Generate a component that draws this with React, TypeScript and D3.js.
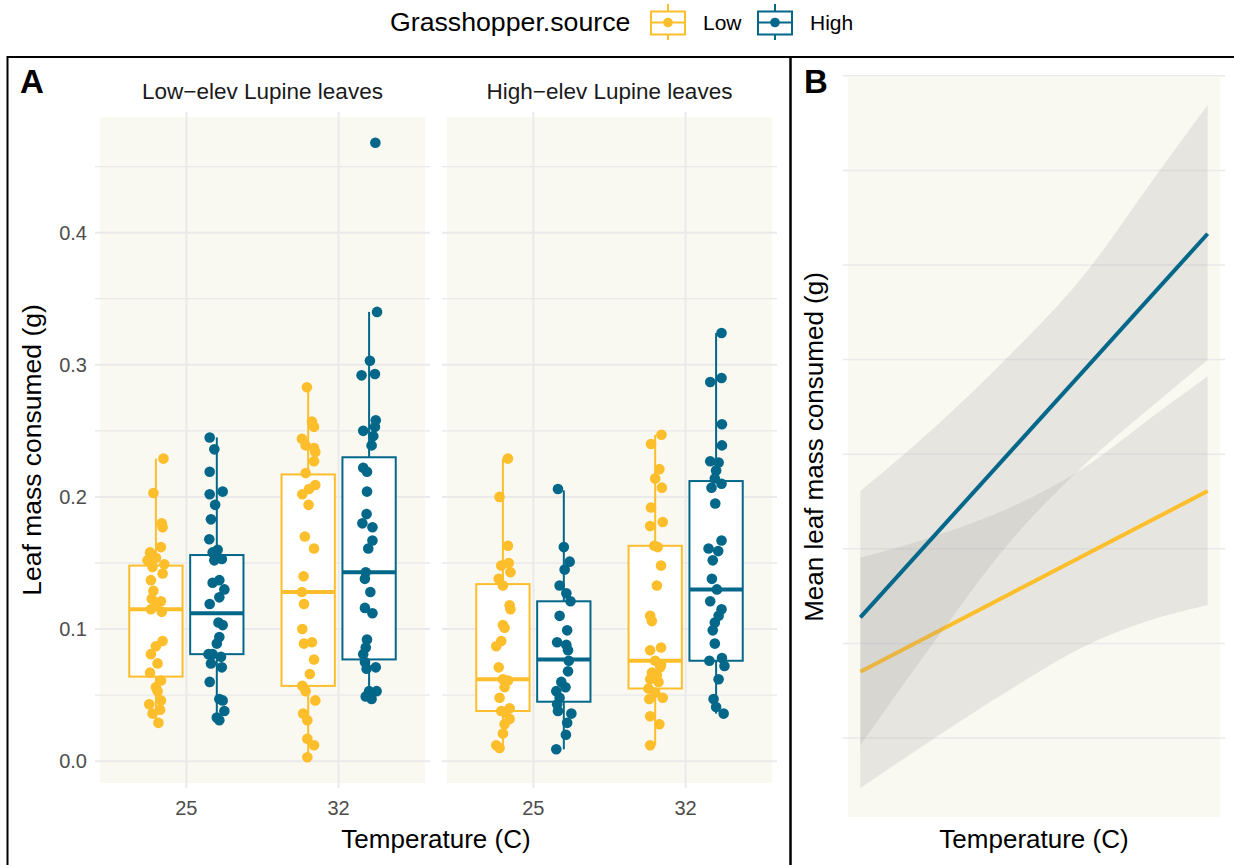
import React, { useEffect, useRef } from 'react';
import * as d3 from 'd3';

const sources = ['Low', 'High'];
const temps = ['25', '32'];
const facets = ['Low−elev Lupine leaves', 'High−elev Lupine leaves'];
const colors: Record<string, string> = { Low: '#FDBE2B', High: '#03678A' };

// leaf mass consumed (g), each point [value, jitter in -1..1]
const lowElev25Low = [[0.229, 0.9], [0.203, -0.3], [0.180, 0.7], [0.177, 0.8], [0.162, 0.6], [0.158, -0.7], [0.152, -1.0], [0.154, 0.0], [0.149, 1.0], [0.147, -0.4], [0.142, 0.8], [0.137, -0.6], [0.129, -0.3], [0.123, -0.5], [0.121, 0.6], [0.118, 0.0], [0.115, -0.6], [0.113, 0.7], [0.091, 0.8], [0.087, 0.0], [0.081, -0.6], [0.074, 0.2], [0.067, -0.7], [0.061, 0.6], [0.056, 0.0], [0.053, 0.2], [0.046, 0.6], [0.043, -0.8], [0.039, 0.5], [0.036, -0.4], [0.029, 0.3]];
const lowElev25High = [[0.245, -0.85], [0.236, -0.3], [0.219, -0.85], [0.204, 0.7], [0.202, -0.85], [0.194, -0.2], [0.183, -0.7], [0.168, -0.9], [0.160, 0.1], [0.158, -0.5], [0.153, 0.6], [0.152, -0.3], [0.137, 0.3], [0.135, -0.5], [0.130, 0.9], [0.124, 0.3], [0.119, -0.85], [0.105, 0.2], [0.103, 0.7], [0.094, 0.3], [0.089, 0.0], [0.081, -0.5], [0.081, -1.0], [0.079, 0.5], [0.074, -0.7], [0.071, 0.6], [0.060, -0.85], [0.047, 0.3], [0.046, 0.7], [0.038, 0.9], [0.033, 0.0], [0.031, 0.3]];
const lowElev32Low = [[0.283, -0.15], [0.257, 0.45], [0.253, 0.7], [0.244, -0.75], [0.239, -0.3], [0.237, 0.7], [0.234, 0.85], [0.227, 0.7], [0.218, -0.3], [0.209, 0.85], [0.206, 0.1], [0.202, -0.7], [0.194, 0.05], [0.170, -0.4], [0.161, 0.7], [0.140, -0.55], [0.128, -0.75], [0.119, -0.5], [0.100, -0.7], [0.090, 0.45], [0.089, -0.5], [0.077, 0.7], [0.066, 0.2], [0.057, -0.7], [0.053, -0.3], [0.046, 0.85], [0.036, -0.6], [0.031, -0.1], [0.017, -0.1], [0.012, 0.7], [0.003, -0.1]];
const lowElev32High = [[0.468, 0.75], [0.340, 0.95], [0.303, 0.1], [0.293, 0.7], [0.292, -0.9], [0.258, 0.8], [0.253, 0.7], [0.250, -0.7], [0.246, 0.5], [0.239, 0.3], [0.222, -0.7], [0.219, -0.25], [0.204, -0.25], [0.187, -0.3], [0.180, -0.8], [0.177, 0.4], [0.167, 0.4], [0.161, -0.1], [0.143, -0.4], [0.138, -0.5], [0.128, 0.15], [0.116, -0.5], [0.112, 0.4], [0.092, -0.25], [0.086, -0.4], [0.081, -0.7], [0.075, -0.5], [0.071, 0.8], [0.070, -0.3], [0.053, 0.0], [0.053, 0.9], [0.049, -0.4], [0.047, 0.3]];
const highElev25Low = [[0.229, 0.6], [0.200, -0.4], [0.163, 0.6], [0.150, 0.7], [0.148, -0.2], [0.143, 0.9], [0.138, -0.5], [0.133, 0.0], [0.118, 0.8], [0.115, 0.9], [0.103, 0.0], [0.101, 0.2], [0.091, -0.2], [0.087, -0.8], [0.071, -0.5], [0.062, 0.0], [0.061, 0.6], [0.056, 0.2], [0.048, -0.4], [0.040, 0.8], [0.038, -0.2], [0.037, 0.3], [0.032, 0.8], [0.028, 0.2], [0.021, 0.0], [0.012, -0.8], [0.010, -0.4]];
const highElev25High = [[0.206, -0.7], [0.162, 0.0], [0.151, 0.7], [0.145, 0.1], [0.133, -0.5], [0.127, 0.3], [0.121, 0.8], [0.110, -0.5], [0.099, 0.4], [0.090, -0.8], [0.088, 0.3], [0.084, 0.5], [0.076, 0.6], [0.068, 0.5], [0.060, -0.3], [0.056, 0.2], [0.053, -0.9], [0.048, -0.5], [0.043, -0.8], [0.038, -0.7], [0.036, 0.9], [0.029, 0.4], [0.020, 0.25], [0.009, -0.9]];
const highElev32Low = [[0.247, 0.75], [0.240, -0.5], [0.221, 0.5], [0.214, 0.0], [0.207, 0.8], [0.192, -0.5], [0.181, 0.9], [0.178, -0.6], [0.163, -0.1], [0.162, 0.3], [0.148, 0.7], [0.133, 0.2], [0.110, -0.6], [0.106, -0.4], [0.086, 0.7], [0.084, -0.6], [0.076, 0.0], [0.073, 0.7], [0.071, 0.6], [0.067, -0.4], [0.065, 0.2], [0.062, -0.6], [0.060, 0.4], [0.055, -0.8], [0.052, 0.0], [0.048, 0.9], [0.047, -0.7], [0.034, -0.6], [0.028, 0.5], [0.012, -0.6]];
const highElev32High = [[0.324, 0.65], [0.290, 0.65], [0.287, -0.7], [0.255, 0.7], [0.239, 0.7], [0.227, -0.7], [0.226, 0.3], [0.220, 0.0], [0.214, -0.15], [0.210, 0.65], [0.207, -0.55], [0.195, -0.1], [0.167, 0.65], [0.161, -0.9], [0.159, 0.25], [0.152, -0.4], [0.138, -0.5], [0.130, 0.1], [0.121, -0.7], [0.115, 0.65], [0.110, 0.3], [0.105, -0.15], [0.099, -0.4], [0.089, -0.15], [0.078, 0.7], [0.076, -0.8], [0.072, 1.0], [0.062, 0.3], [0.047, -0.3], [0.041, 0.0], [0.036, 0.9]];

// box stats: [lower whisker, q1, median, q3, upper whisker]
const boxLowElev25 = { Low: [0.029, 0.064, 0.115, 0.148, 0.229], High: [0.031, 0.081, 0.112, 0.156, 0.245] };
const boxLowElev32 = { Low: [0.003, 0.057, 0.128, 0.217, 0.283], High: [0.047, 0.077, 0.143, 0.230, 0.340] };
const boxHighElev25 = { Low: [0.010, 0.038, 0.062, 0.134, 0.229], High: [0.009, 0.045, 0.077, 0.121, 0.205] };
const boxHighElev32 = { Low: [0.012, 0.055, 0.076, 0.163, 0.247], High: [0.036, 0.076, 0.130, 0.212, 0.324] };

// panel B: fitted means and confidence bands
const tempB = [25, 26.5, 28, 29.5, 31, 32];
const bandLowUpper = [0.0781, 0.0827, 0.0886, 0.0971, 0.1088, 0.1165];
const bandLowLower = [0.0294, 0.0400, 0.0501, 0.0593, 0.0654, 0.0681];
const bandHighUpper = [0.0922, 0.1057, 0.1208, 0.1378, 0.1595, 0.1738];
const bandHighLower = [0.0385, 0.0605, 0.0813, 0.0976, 0.1112, 0.1199];
const fitTemps = [25, 32];
const fitLow = [0.0540, 0.0922];
const fitHigh = [0.0655, 0.1466];

const groups = [
  { facet: 0, temp: '25', source: 'Low', pts: lowElev25Low, box: boxLowElev25.Low },
  { facet: 0, temp: '25', source: 'High', pts: lowElev25High, box: boxLowElev25.High },
  { facet: 0, temp: '32', source: 'Low', pts: lowElev32Low, box: boxLowElev32.Low },
  { facet: 0, temp: '32', source: 'High', pts: lowElev32High, box: boxLowElev32.High },
  { facet: 1, temp: '25', source: 'Low', pts: highElev25Low, box: boxHighElev25.Low },
  { facet: 1, temp: '25', source: 'High', pts: highElev25High, box: boxHighElev25.High },
  { facet: 1, temp: '32', source: 'Low', pts: highElev32Low, box: boxHighElev32.Low },
  { facet: 1, temp: '32', source: 'High', pts: highElev32High, box: boxHighElev32.High },
];

const FONT = '"Liberation Sans", Arial, Helvetica, sans-serif';
const PANEL_BG = '#F9F8F1';
const GRID = '#EAEAEA';

export default function App() {
  const ref = useRef<SVGSVGElement>(null);

  useEffect(() => {
    document.body.style.margin = '0';
    const svg = d3.select(ref.current);
    svg.selectAll('*').remove();
    svg.style('font-family', FONT);

    // ---- panel A ----
    const facetRanges = [[95, 430], [442, 777]];
    const yA = d3.scaleLinear().domain([-0.0203, 0.4913]).range([788, 112]);
    const gA = svg.append('g');

    facetRanges.forEach((r, fi) => {
      const x = d3.scalePoint().domain(temps).range(r as [number, number]).padding(0.6);
      gA.append('rect')
        .attr('x', r[0]).attr('y', 112)
        .attr('width', r[1] - r[0]).attr('height', 788 - 112)
        .attr('fill', PANEL_BG).attr('stroke', 'white').attr('stroke-width', 10);
      d3.range(0, 0.46, 0.05).forEach((v, i) => {
        gA.append('line')
          .attr('x1', r[0]).attr('x2', r[1])
          .attr('y1', yA(v)).attr('y2', yA(v))
          .attr('stroke', GRID).attr('stroke-width', i % 2 === 0 ? 2 : 1.3);
      });
      temps.forEach(t => {
        gA.append('line')
          .attr('x1', x(t)!).attr('x2', x(t)!)
          .attr('y1', 112).attr('y2', 788)
          .attr('stroke', GRID).attr('stroke-width', 2);
        gA.append('text')
          .attr('x', x(t)!).attr('y', 815)
          .attr('text-anchor', 'middle')
          .attr('font-size', 20).attr('fill', '#4D4D4D')
          .text(t);
      });
      gA.append('text')
        .attr('x', (r[0] + r[1]) / 2).attr('y', 99)
        .attr('text-anchor', 'middle')
        .attr('font-size', 22.5).attr('fill', '#1A1A1A')
        .text(facets[fi]);
    });

    // y axis labels
    [0, 0.1, 0.2, 0.3, 0.4].forEach(v => {
      gA.append('text')
        .attr('x', 87).attr('y', yA(v))
        .attr('dy', '0.35em')
        .attr('text-anchor', 'end')
        .attr('font-size', 20).attr('fill', '#4D4D4D')
        .text(d3.format('.1f')(v));
    });

    const xFor = (fi: number) => d3.scalePoint().domain(temps).range(facetRanges[fi] as [number, number]).padding(0.6);
    const dodge = d3.scalePoint().domain(sources).range([-0.2, 0.2]);

    // boxes
    groups.forEach(g => {
      const x = xFor(g.facet);
      const step = x.step();
      const cx = x(g.temp)! + dodge(g.source)! * step;
      const bw = 0.35 * step;
      const [lo, q1, med, q3, hi] = g.box;
      const c = colors[g.source];
      const bg = gA.append('g');
      bg.append('line').attr('x1', cx).attr('x2', cx).attr('y1', yA(hi)).attr('y2', yA(q3))
        .attr('stroke', c).attr('stroke-width', 2);
      bg.append('line').attr('x1', cx).attr('x2', cx).attr('y1', yA(q1)).attr('y2', yA(lo))
        .attr('stroke', c).attr('stroke-width', 2);
      bg.append('rect')
        .attr('x', cx - bw / 2).attr('y', yA(q3))
        .attr('width', bw).attr('height', yA(q1) - yA(q3))
        .attr('fill', 'white').attr('stroke', c).attr('stroke-width', 2);
      bg.append('line').attr('x1', cx - bw / 2).attr('x2', cx + bw / 2).attr('y1', yA(med)).attr('y2', yA(med))
        .attr('stroke', c).attr('stroke-width', 4);
    });

    // jittered points
    groups.forEach(g => {
      const x = xFor(g.facet);
      const step = x.step();
      const cx = x(g.temp)! + dodge(g.source)! * step;
      gA.append('g').selectAll('circle')
        .data(g.pts)
        .enter()
        .append('circle')
        .attr('cx', d => cx + d[1] * 0.055 * step)
        .attr('cy', d => yA(d[0]))
        .attr('r', 5.3)
        .attr('fill', colors[g.source]);
    });

    gA.append('text')
      .attr('transform', 'translate(41,450) rotate(-90)')
      .attr('text-anchor', 'middle')
      .attr('font-size', 26.5)
      .text('Leaf mass consumed (g)');
    gA.append('text')
      .attr('x', 436).attr('y', 848)
      .attr('text-anchor', 'middle')
      .attr('font-size', 26)
      .text('Temperature (C)');

    // ---- panel B ----
    const xB = d3.scaleLinear().domain([24.65, 32.35]).range([843, 1225]);
    const yB = d3.scaleLinear().domain([0.02224, 0.1808]).range([822, 72]);
    const gB = svg.append('g');
    gB.append('rect')
      .attr('x', 843).attr('y', 72).attr('width', 1225 - 843).attr('height', 822 - 72)
      .attr('fill', PANEL_BG).attr('stroke', 'white').attr('stroke-width', 10);
    d3.range(0.04, 0.181, 0.02).forEach(v => {
      gB.append('line')
        .attr('x1', 843).attr('x2', 1225)
        .attr('y1', yB(v)).attr('y2', yB(v))
        .attr('stroke', GRID).attr('stroke-width', 1.5);
    });

    const area = d3.area<number>()
      .x((d, i) => xB(tempB[i]))
      .curve(d3.curveMonotoneX);
    const line = d3.line<number>()
      .x((d, i) => xB(fitTemps[i]))
      .y(d => yB(d));

    const bands = [
      { source: 'Low', upper: bandLowUpper, lower: bandLowLower, fit: fitLow },
      { source: 'High', upper: bandHighUpper, lower: bandHighLower, fit: fitHigh },
    ];
    bands.forEach(b => {
      gB.append('path')
        .attr('d', area.y0((d, i) => yB(b.lower[i])).y1(d => yB(d))(b.upper))
        .attr('fill', '#999999').attr('fill-opacity', 0.2);
      gB.append('path')
        .attr('d', line(b.fit))
        .attr('fill', 'none').attr('stroke', colors[b.source]).attr('stroke-width', 4);
    });

    gB.append('text')
      .attr('transform', 'translate(823,447) rotate(-90)')
      .attr('text-anchor', 'middle')
      .attr('font-size', 26)
      .text('Mean leaf mass consumed (g)');
    gB.append('text')
      .attr('x', 1034).attr('y', 848)
      .attr('text-anchor', 'middle')
      .attr('font-size', 26)
      .text('Temperature (C)');

    // frames and tags
    svg.append('rect').attr('x', 7.5).attr('y', 57).attr('width', 783).attr('height', 840)
      .attr('fill', 'none').attr('stroke', 'black').attr('stroke-width', 2);
    svg.append('rect').attr('x', 790.5).attr('y', 57).attr('width', 460).attr('height', 840)
      .attr('fill', 'none').attr('stroke', 'black').attr('stroke-width', 2);
    svg.append('text').attr('x', 20).attr('y', 93).attr('font-size', 33).attr('font-weight', 'bold').text('A');
    svg.append('text').attr('x', 804).attr('y', 93).attr('font-size', 33).attr('font-weight', 'bold').text('B');

    // ---- legend ----
    const leg = svg.append('g');
    leg.append('text').attr('x', 390).attr('y', 31).attr('font-size', 26.7).text('Grasshopper.source');
    const keyX = d3.scaleOrdinal<string, number>().domain(sources).range([651, 758]);
    sources.forEach(s => {
      const kx = keyX(s);
      const c = colors[s];
      const k = leg.append('g');
      k.append('line').attr('x1', kx + 17).attr('x2', kx + 17).attr('y1', 4).attr('y2', 40)
        .attr('stroke', c).attr('stroke-width', 2);
      k.append('rect').attr('x', kx).attr('y', 11.5).attr('width', 34).attr('height', 23)
        .attr('fill', 'white').attr('stroke', c).attr('stroke-width', 2);
      k.append('line').attr('x1', kx).attr('x2', kx + 34).attr('y1', 22.5).attr('y2', 22.5)
        .attr('stroke', c).attr('stroke-width', 2);
      k.append('circle').attr('cx', kx + 17).attr('cy', 22.5).attr('r', 4.8).attr('fill', c);
      k.append('text').attr('x', kx + 52).attr('y', 30).attr('font-size', 21).text(s);
    });
  }, []);

  return (
    <svg ref={ref} width={1234} height={865} style={{ display: 'block', background: 'white' }} />
  );
}
